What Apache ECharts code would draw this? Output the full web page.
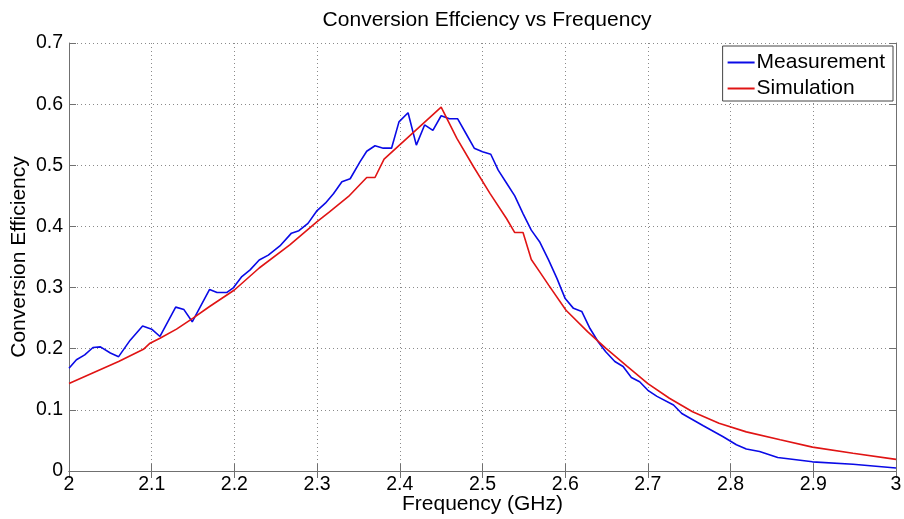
<!DOCTYPE html>
<html><head><meta charset="utf-8">
<script src="https://cdn.jsdelivr.net/npm/echarts@6/dist/echarts.min.js"></script>
<style>html,body{margin:0;padding:0;background:#fff}#c{width:904px;height:519px}</style>
</head><body><div id="c"></div>
<script>
var freqMeas = [2.000,2.009,2.019,2.029,2.038,2.050,2.060,2.074,2.089,2.100,2.110,2.129,2.139,2.149,2.170,2.179,2.191,2.199,2.209,2.219,2.230,2.241,2.255,2.269,2.278,2.289,2.300,2.310,2.320,2.330,2.340,2.352,2.360,2.370,2.380,2.390,2.399,2.410,2.420,2.430,2.440,2.450,2.460,2.470,2.480,2.490,2.500,2.510,2.519,2.529,2.539,2.549,2.559,2.569,2.580,2.590,2.600,2.610,2.620,2.630,2.640,2.649,2.660,2.670,2.680,2.690,2.700,2.711,2.731,2.741,2.767,2.791,2.807,2.819,2.835,2.857,2.899,2.948,3.000];
var measurement = [0.168,0.182,0.190,0.202,0.203,0.193,0.187,0.214,0.237,0.232,0.220,0.268,0.264,0.244,0.297,0.292,0.292,0.300,0.318,0.329,0.345,0.353,0.368,0.389,0.393,0.405,0.426,0.438,0.454,0.473,0.478,0.506,0.523,0.532,0.528,0.528,0.571,0.586,0.533,0.566,0.557,0.581,0.576,0.576,0.552,0.528,0.522,0.518,0.492,0.471,0.450,0.421,0.394,0.375,0.345,0.315,0.282,0.266,0.261,0.233,0.211,0.195,0.179,0.171,0.153,0.146,0.132,0.122,0.108,0.094,0.074,0.056,0.043,0.036,0.032,0.022,0.015,0.011,0.005];
var freqSim = [2.000,2.030,2.060,2.090,2.098,2.110,2.130,2.150,2.170,2.200,2.230,2.267,2.300,2.315,2.338,2.360,2.370,2.381,2.450,2.469,2.489,2.509,2.529,2.539,2.549,2.559,2.569,2.580,2.601,2.627,2.649,2.675,2.700,2.726,2.754,2.786,2.819,2.860,2.899,2.948,3.000];
var simulation = [0.143,0.161,0.179,0.199,0.209,0.217,0.232,0.250,0.269,0.296,0.332,0.370,0.408,0.424,0.449,0.480,0.480,0.510,0.595,0.544,0.498,0.454,0.413,0.390,0.390,0.346,0.326,0.304,0.263,0.228,0.201,0.171,0.143,0.119,0.097,0.078,0.064,0.051,0.039,0.029,0.019];
var xTicks = [2,2.1,2.2,2.3,2.4,2.5,2.6,2.7,2.8,2.9,3];
var yTicks = [0,0.1,0.2,0.3,0.4,0.5,0.6,0.7];

function pairs(xs, ys){ return xs.map(function(x,i){return [x, ys[i]];}); }
var FONT = 'Liberation Sans, Arial, sans-serif';
var chart = echarts.init(document.getElementById('c'), null, {renderer:'canvas'});
var gridLine = {show:true, lineStyle:{color:'#8a8a8a', type:[1,3], width:1}};
var axisLine = {show:true, lineStyle:{color:'#707070', width:1}};
var tick = {show:true, inside:true, length:7, lineStyle:{color:'#707070'}};
chart.setOption({
  animation:false,
  backgroundColor:'#fff',
  title:{text:'Conversion Effciency vs Frequency', left:482, textAlign:'center', top:5,
    textStyle:{fontFamily:FONT, fontSize:21, fontWeight:'normal', color:'#000'}},
  grid:{left:69, right:8, top:43, bottom:48, containLabel:false, outerBoundsMode:'none'},
  legend:{orient:'vertical', right:11, top:46, backgroundColor:'#fff', borderColor:'#444', borderWidth:1,
    padding:[6,8,2,5], itemGap:5, itemWidth:27, itemHeight:2, icon:'rect',
    textStyle:{fontFamily:FONT, fontSize:21, color:'#000', padding:[0,0,0,-3]},
    data:['Measurement','Simulation']},
  xAxis:[{type:'value', min:2, max:3, interval:0.1, position:'bottom',
    name:'Frequency (GHz)', nameLocation:'middle', nameGap:23, nameMoveOverlap:false,
    nameTextStyle:{fontFamily:FONT, fontSize:21, color:'#000'},
    axisLine:axisLine, axisTick:tick,
    axisLabel:{fontFamily:FONT, fontSize:19.5, color:'#000', margin:4,
      formatter:function(v){return String(+v.toFixed(1));}},
    splitLine:gridLine},
   {type:'value', min:2, max:3, interval:0.1, position:'top',
    axisLine:axisLine, axisTick:tick, axisLabel:{show:false}, splitLine:{show:false}}],
  yAxis:[{type:'value', min:0, max:0.7, interval:0.1, position:'left',
    name:'Conversion Efficiency', nameLocation:'middle', nameGap:39, nameMoveOverlap:false,
    nameTextStyle:{fontFamily:FONT, fontSize:21, color:'#000'},
    axisLine:axisLine, axisTick:tick,
    axisLabel:{fontFamily:FONT, fontSize:19.5, color:'#000', margin:6,
      formatter:function(v){return String(+v.toFixed(1));}},
    splitLine:gridLine},
   {type:'value', min:0, max:0.7, interval:0.1, position:'right',
    axisLine:axisLine, axisTick:tick, axisLabel:{show:false}, splitLine:{show:false}}],
  series:[
    {name:'Measurement', type:'line', xAxisIndex:0, yAxisIndex:0, data:pairs(freqMeas, measurement),
     showSymbol:false, symbol:'none', itemStyle:{color:'#0a0ae6'}, lineStyle:{color:'#0a0ae6', width:1.6}},
    {name:'Simulation', type:'line', xAxisIndex:0, yAxisIndex:0, data:pairs(freqSim, simulation),
     showSymbol:false, symbol:'none', itemStyle:{color:'#e01414'}, lineStyle:{color:'#e01414', width:1.6}}
  ]
});
</script></body></html>
